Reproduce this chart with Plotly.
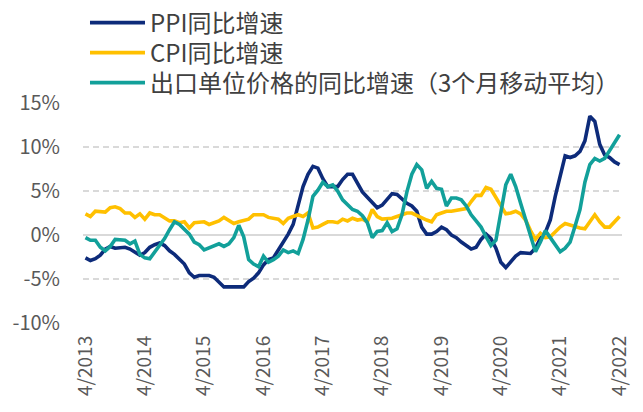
import plotly.graph_objects as go

# Monthly data, 2013-04 .. 2022-04 (109 months)
years = list(range(2013, 2023))
months = []
for y in years:
    for m in range(1, 13):
        if (y == 2013 and m < 4) or (y == 2022 and m > 4):
            continue
        months.append(f"{y}-{m:02d}")

ppi = [
    -2.6, -2.9, -2.7, -2.3, -1.6, -1.3, -1.5, -1.4, -1.4,
    -1.6, -2.0, -2.3, -2.0, -1.4, -1.1, -0.9, -1.2, -1.8, -2.2, -2.7, -3.3,
    -4.3, -4.8, -4.6, -4.6, -4.6, -4.8, -5.4, -5.9, -5.9, -5.9, -5.9, -5.9,
    -5.3, -4.9, -4.3, -3.4, -2.8, -2.6, -1.7, -0.8, 0.1, 1.2, 3.3, 5.5,
    6.9, 7.8, 7.6, 6.4, 5.5, 5.5, 5.5, 6.3, 6.9, 6.9, 5.8, 4.9,
    4.3, 3.7, 3.1, 3.4, 4.1, 4.7, 4.6, 4.1, 3.6, 3.3, 2.7, 0.9,
    0.1, 0.1, 0.4, 0.9, 0.6, 0.0, -0.3, -0.8, -1.2, -1.6, -1.4, -0.5,
    0.1, -0.4, -1.5, -3.1, -3.7, -3.0, -2.4, -2.0, -2.1, -2.1, -1.5, -0.4,
    0.3, 1.7, 4.4, 6.8, 9.0, 8.8, 9.0, 9.5, 10.7, 13.5, 12.9, 10.3,
    9.1, 8.8, 8.3, 8.0,
]

cpi = [
    2.4, 2.1, 2.7, 2.7, 2.6, 3.1, 3.2, 3.0, 2.5,
    2.5, 2.0, 2.4, 1.8, 2.5, 2.3, 2.3, 2.0, 1.6, 1.6, 1.4, 1.5,
    0.8, 1.4, 1.4, 1.5, 1.2, 1.4, 1.6, 2.0, 1.6, 1.3, 1.5, 1.6,
    1.8, 2.3, 2.3, 2.3, 2.0, 1.9, 1.8, 1.3, 1.9, 2.1, 2.3, 2.1,
    2.5, 0.8, 0.9, 1.2, 1.5, 1.5, 1.4, 1.8, 1.6, 1.9, 1.7, 1.8,
    1.5, 2.9, 2.1, 1.8, 1.8, 1.9, 2.1, 2.3, 2.5, 2.5, 2.2, 1.9,
    1.7, 1.5, 2.3, 2.5, 2.7, 2.7, 2.8, 2.8, 3.0, 3.8, 4.5, 4.5,
    5.4, 5.2, 4.3, 3.3, 2.4, 2.5, 2.7, 2.4, 1.7, 0.5, -0.5, 0.2,
    -0.3, -0.2, 0.4, 0.9, 1.3, 1.1, 1.0, 0.8, 0.7, 1.5, 2.3, 1.5,
    0.9, 0.9, 1.5, 2.1,
]

export_price = [
    -0.3, -0.6, -0.6, -1.4, -1.8, -1.3, -0.5, -0.5, -0.6,
    -1.0, -0.7, -2.2, -2.6, -2.7, -1.9, -1.1, -0.4, 0.6, 1.5, 1.2, 0.6,
    0.1, -0.8, -1.1, -1.7, -1.5, -1.2, -1.0, -1.3, -1.0, -0.3, 1.1, -0.2,
    -2.8, -3.3, -3.6, -2.4, -3.1, -2.8, -2.4, -1.7, -2.0, -1.8, -2.1, -0.5,
    1.7, 4.4, 5.1, 6.0, 5.5, 5.7, 5.0, 4.0, 3.4, 2.9, 2.7, 2.2,
    1.4, -0.3, 0.4, 0.5, 1.4, 0.4, 0.7, 2.3, 4.9, 6.9, 8.0, 7.4,
    5.3, 6.1, 5.3, 5.2, 3.3, 4.2, 4.2, 4.0, 3.3, 2.3, 1.6, 0.9,
    -0.2, -1.2, -0.6, 2.5, 5.7, 6.9, 5.5, 3.6, 1.7, -0.2, -1.9, -0.8,
    0.5, -0.3, -1.1, -1.9, -1.5, -0.8, 1.0, 2.9, 6.0, 8.0, 8.7, 8.4,
    8.7, 9.6, 10.6, 11.4,
]

tick_months = ["2013-04", "2014-04", "2015-04", "2016-04", "2017-04",
               "2018-04", "2019-04", "2020-04", "2021-04", "2022-04"]
tick_labels = ["4/2013", "4/2014", "4/2015", "4/2016", "4/2017",
               "4/2018", "4/2019", "4/2020", "4/2021", "4/2022"]
y_ticks = [-10, -5, 0, 5, 10, 15]
y_labels = ["-10%", "-5%", "0%", "5%", "10%", "15%"]

names = ["PPI同比增速", "CPI同比增速", "出口单位价格的同比增速（3个月移动平均）"]
colors = ["#0D2B7A", "#FFC000", "#12A09A"]
legend_ids = ["legend", "legend2", "legend3"]
legend_rows_y = [1.3636, 1.2273, 1.0909]

FONT = "Noto Sans CJK SC"

fig = go.Figure()
for vals, nm, c, lg in zip([ppi, cpi, export_price], names, colors, legend_ids):
    fig.add_trace(go.Scatter(
        x=months, y=vals, mode="lines", name=nm, legend=lg,
        line=dict(color=c, width=3.6),
    ))

legend_style = dict(
    x=0.0037, xanchor="left", yanchor="middle",
    font=dict(family=FONT, size=24, color="#404040"),
    itemwidth=55, bgcolor="rgba(0,0,0,0)",
)

fig.update_layout(
    width=635, height=404,
    margin=dict(l=75, r=21, t=95, b=89, autoexpand=False),
    paper_bgcolor="white", plot_bgcolor="white",
    font=dict(family=FONT, color="#404040"),
    showlegend=True,
    legend=dict(y=legend_rows_y[0], **legend_style),
    legend2=dict(y=legend_rows_y[1], **legend_style),
    legend3=dict(y=legend_rows_y[2], **legend_style),
)

fig.update_xaxes(
    type="category", range=[-0.5, len(months) - 0.5], automargin=False,
    tickmode="array", tickvals=tick_months, ticktext=tick_labels,
    tickangle=-90, tickfont=dict(family=FONT, size=19, color="#595959"),
    showgrid=False, showline=False, zeroline=False, ticks="",
    ticklabelstandoff=8,
)
fig.update_yaxes(
    range=[-10, 15], tickmode="array", tickvals=y_ticks, ticktext=y_labels,
    automargin=False,
    tickfont=dict(family=FONT, size=20, color="#595959"),
    showgrid=True, gridcolor="#D9D9D9", gridwidth=1.5, griddash="6px,4px",
    zeroline=True, zerolinecolor="#D9D9D9", zerolinewidth=2,
    showline=False, ticks="", ticklabelstandoff=22,
)

fig.write_html("out.html")
